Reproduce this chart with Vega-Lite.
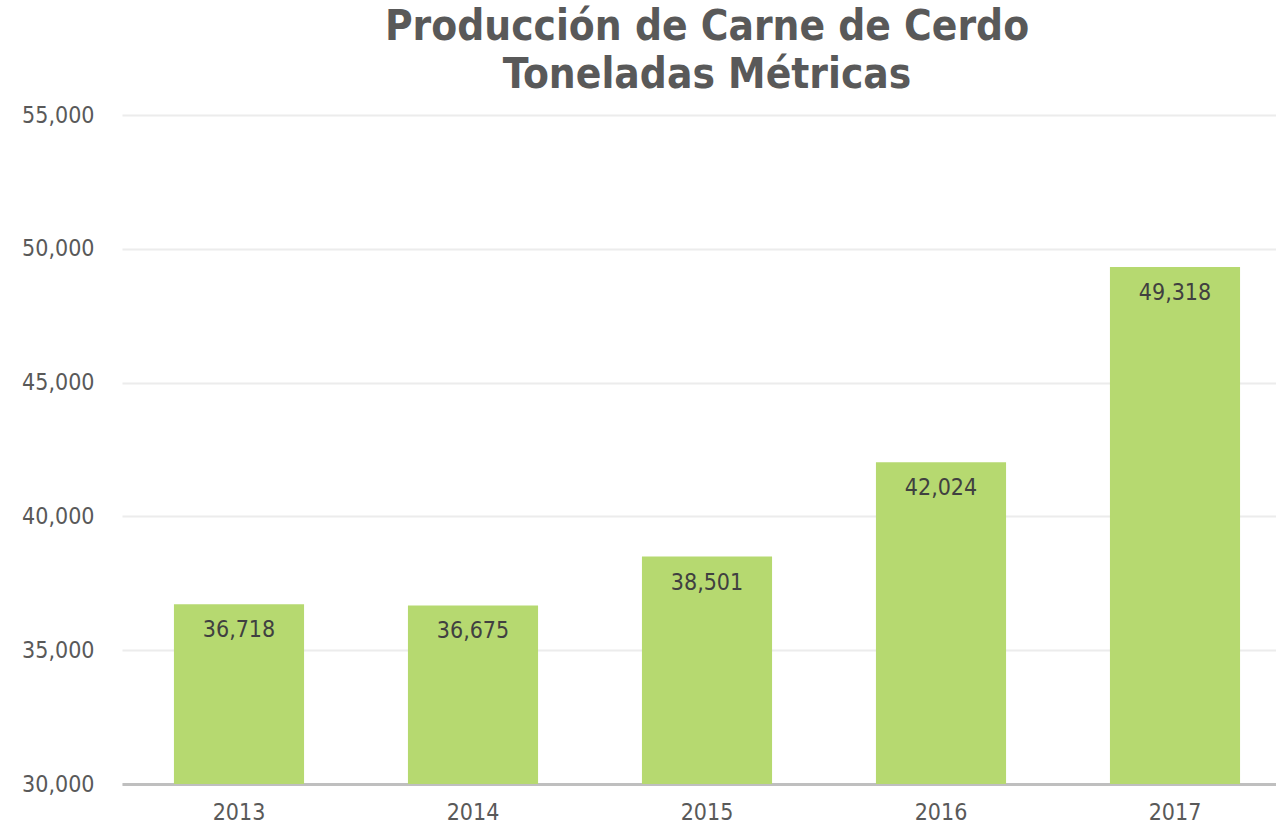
{
  "$schema": "https://vega.github.io/schema/vega-lite/v6.json",
  "width": 1170,
  "height": 669,
  "autosize": "none",
  "padding": {"left": 122, "top": 115, "right": 0, "bottom": 41},
  "background": "white",
  "title": {
    "text": ["Producción de Carne de Cerdo", "Toneladas Métricas"],
    "font": "DejaVu Sans Condensed",
    "fontSize": 42,
    "fontWeight": "bold",
    "color": "#595959",
    "lineHeight": 48,
    "anchor": "middle",
    "offset": 7
  },
  "data": {
    "values": [
      {"year": "2013", "value": 36718},
      {"year": "2014", "value": 36675},
      {"year": "2015", "value": 38501},
      {"year": "2016", "value": 42024},
      {"year": "2017", "value": 49318}
    ]
  },
  "config": {
    "view": {"stroke": null},
    "font": "DejaVu Sans Condensed"
  },
  "encoding": {
    "x": {
      "field": "year",
      "type": "nominal",
      "scale": {"paddingInner": 0.444, "paddingOuter": 0.222},
      "axis": {
        "title": null,
        "labelAngle": 0,
        "labelFontSize": 23,
        "labelColor": "#595959",
        "labelPadding": 17,
        "ticks": false,
        "domain": true,
        "domainColor": "#bfbfbf",
        "domainWidth": 3,
        "grid": false
      }
    },
    "y": {
      "field": "value",
      "type": "quantitative",
      "scale": {"domain": [30000, 55000], "nice": false, "zero": false},
      "axis": {
        "title": null,
        "values": [30000, 35000, 40000, 45000, 50000, 55000],
        "format": ",.0f",
        "labelFontSize": 23,
        "labelColor": "#595959",
        "labelPadding": 28,
        "ticks": false,
        "domain": false,
        "gridColor": "#ececec",
        "gridWidth": 2
      }
    }
  },
  "layer": [
    {
      "mark": {"type": "bar", "color": "#b6d970", "clip": true}
    },
    {
      "mark": {"type": "text", "baseline": "middle", "dy": 26, "fontSize": 23, "color": "#404040"},
      "encoding": {"text": {"field": "value", "type": "quantitative", "format": ","}}
    }
  ]
}
